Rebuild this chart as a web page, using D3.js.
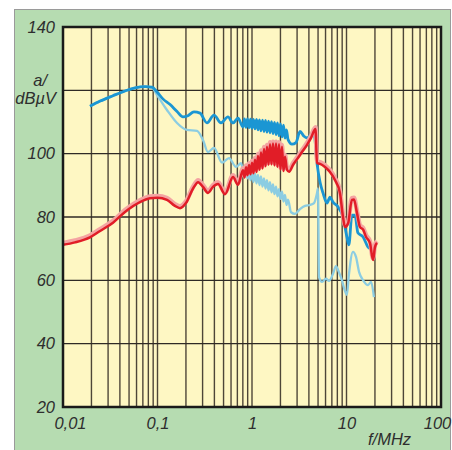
<!DOCTYPE html>
<html><head><meta charset="utf-8">
<script src="https://cdn.jsdelivr.net/npm/d3@7"></script>
<style>html,body{margin:0;padding:0;background:#fff;}svg{display:block;}</style>
</head><body>
<svg id="c" width="452" height="450"></svg>
<script>
// ---- data (frequency in MHz, level in dBµV) ----
const darkBlueF = [0.0193,0.0247,0.0338,0.0453,0.0578,0.0738,0.0875,0.0989,0.114,0.136,0.161,0.186,0.210,0.243,0.282,0.334,0.396,0.470,0.557,0.630,0.711,0.803,
  0.833,0.864,0.896,0.930,0.964,1.000,1.037,1.076,1.116,1.157,1.200,1.245,1.292,1.340,1.390,1.441,1.495,1.551,1.608,1.668,1.730,1.795,1.861,1.931,2.003,2.077,2.154,2.235,2.318,2.404,
  2.65,2.92,3.22,3.55,3.82,4.21,4.53,4.87,5.25,5.64,6.22,6.69,7.19,8.13,9.18,10.1,10.6,11.4,12.3,13.2,15.0,16.9,19.1];
const darkBlueV = [115.0,116.6,118.3,119.8,120.8,121.2,121.0,119.5,117.3,115.5,113.3,111.6,112.0,113.2,112.8,109.7,112.2,109.7,111.6,109.7,111.2,108.4,
  111.0,108.3,111.0,108.2,110.9,108.0,110.8,107.8,110.8,107.5,110.7,107.2,110.6,107.0,110.5,106.8,110.3,106.6,110.1,106.3,109.9,106.0,109.7,105.6,109.4,105.3,109.0,104.9,107.5,104.5,
  103.0,103.5,107.0,105.5,105.0,106.0,106.5,97.0,91.0,87.6,84.4,86.3,84.7,83.2,80.0,73.7,71.2,80.6,80.6,75.0,73.7,70.5,69.6];

const lightBlueF = [0.0193,0.0247,0.0338,0.0453,0.0578,0.0738,0.0875,0.0989,0.126,0.161,0.205,0.262,0.303,0.342,0.396,0.482,0.571,0.678,0.766,
  0.833,0.864,0.896,0.930,0.964,1.000,1.037,1.076,1.116,1.157,1.200,1.245,1.292,1.340,1.390,1.441,1.495,1.551,1.608,1.668,1.730,1.795,1.861,1.931,2.003,2.077,2.154,2.235,2.318,2.404,
  2.59,2.85,3.22,3.64,4.11,4.53,4.87,4.99,5.12,5.51,6.07,6.53,7.19,7.74,8.33,8.96,9.41,10.1,10.6,11.7,12.6,13.6,15.0,16.9,18.2,19.5];
const lightBlueV = [115.0,116.6,118.3,119.8,120.8,121.2,120.8,118.5,113.8,109.7,107.5,107.2,104.3,100.5,101.8,97.2,98.6,95.8,97.0,
  92.5,95.2,92.2,94.8,91.6,94.2,91.0,93.8,90.6,93.3,90.1,92.8,89.6,92.2,89.0,91.6,88.4,91.0,87.8,90.3,87.2,89.6,86.5,88.8,85.7,88.0,84.9,87.0,83.8,85.5,
  81.5,81.0,82.5,83.5,83.8,84.4,87.5,89.0,61.0,59.5,60.5,59.8,62.0,64.5,62.5,60.0,57.6,55.4,61.7,69.0,67.4,62.6,60.0,58.5,59.5,54.7];

const redF = [0.0100,0.0134,0.0193,0.0247,0.0338,0.0453,0.0653,0.0833,0.100,0.126,0.153,0.173,0.200,0.238,0.269,0.303,0.342,0.386,0.437,0.518,0.630,0.711,
  0.803,0.833,0.864,0.896,0.930,0.964,1.000,1.037,1.076,1.116,1.157,1.200,1.245,1.292,1.340,1.390,1.441,1.495,1.551,1.608,1.668,1.730,1.795,1.861,1.931,2.003,2.077,2.154,2.235,
  2.34,2.47,2.72,2.99,3.38,3.82,4.21,4.70,4.87,5.25,5.92,6.69,7.55,8.53,9.18,9.64,10.4,11.4,12.0,12.9,13.9,15.0,16.1,17.7,19.1,20.0,21.0];
const redV = [71.2,72.0,73.6,75.6,78.2,81.6,84.7,85.9,86.1,85.4,83.5,82.8,84.4,89.0,91.0,89.5,87.6,89.5,90.4,87.2,92.6,90.2,
  94.8,92.5,95.7,93.2,96.4,93.5,97.1,93.8,98.1,94.2,99.3,94.9,100.4,95.3,101.5,96.0,102.2,96.5,103.0,96.6,103.2,96.3,103.2,95.8,103.0,95.0,102.2,94.5,99.0,
  95.0,94.3,96.5,98.2,100.5,102.8,105.0,107.8,97.0,96.8,95.8,94.2,91.7,87.6,80.0,76.8,78.0,85.4,85.5,81.3,76.8,76.0,73.7,71.8,66.4,70.5,71.8];

const yTicks = [20,40,60,80,100,120,140];
const yTickLabels = ["20","40","60","80","100","","140"];
const xTickValues = [0.01,0.1,1,10,100];
const xTickLabels = ["0,01","0,1","1","10","100"];

// ---- layout ----
const svg = d3.select("#c");
const L = 63, R = 441, T = 27, B = 407;
const x = d3.scaleLog().domain([0.01,100]).range([L,R]);
const y = d3.scaleLinear().domain([20,140]).range([B,T]);

svg.append("rect").attr("x",14.5).attr("y",9.5).attr("width",436).attr("height",450)
  .attr("fill","#b6dcb1").attr("stroke","#9a9a9a").attr("stroke-width",1);
svg.append("rect").attr("x",L).attr("y",T).attr("width",R-L).attr("height",B-T).attr("fill","#fef7c3");

// vertical grid
svg.append("g").selectAll("line").data(x.ticks()).join("line")
  .attr("x1",d=>x(d)).attr("x2",d=>x(d)).attr("y1",T).attr("y2",B)
  .attr("stroke","#4e4638").attr("stroke-width",1.4);
// horizontal grid
svg.append("g").selectAll("line").data(yTicks).join("line")
  .attr("x1",L).attr("x2",R).attr("y1",d=>y(d)).attr("y2",d=>y(d))
  .attr("stroke","#2f2a25").attr("stroke-width",1.4);

// series
function series(F,V){ return F.map((f,i)=>[f,V[i]]); }
const line = d3.line().x(d=>x(d[0])).y(d=>y(d[1])).curve(d3.curveMonotoneX);
svg.append("clipPath").attr("id","pc").append("rect").attr("x",L).attr("y",T).attr("width",R-L).attr("height",B-T);
const g = svg.append("g").attr("clip-path","url(#pc)");
g.append("path").attr("d",line(series(lightBlueF,lightBlueV))).attr("fill","none").attr("stroke","#8ccde2").attr("stroke-width",2.3).attr("stroke-linejoin","round");
g.append("path").attr("d",line(series(darkBlueF,darkBlueV))).attr("fill","none").attr("stroke","#1b96d3").attr("stroke-width",2.8).attr("stroke-linejoin","round");
g.append("path").attr("d",line(series(redF,redV))).attr("fill","none").attr("stroke","#f4a4a2").attr("stroke-width",4.5).attr("transform","translate(0,-1.8)").attr("stroke-linejoin","round");
g.append("path").attr("d",line(series(redF,redV))).attr("fill","none").attr("stroke","#e11d27").attr("stroke-width",2.5).attr("stroke-linejoin","round");

// frame
svg.append("rect").attr("x",L).attr("y",T).attr("width",R-L).attr("height",B-T)
  .attr("fill","none").attr("stroke","#1a1a1a").attr("stroke-width",2.5);

// axes text
const font = "'Liberation Sans', Arial, sans-serif";
const yAxis = d3.axisLeft(y).tickValues(yTicks).tickSize(0).tickPadding(8).tickFormat((d,i)=>yTickLabels[i]);
const ya = svg.append("g").attr("transform",`translate(${L},0)`).call(yAxis);
ya.select(".domain").remove();
ya.selectAll("text").attr("font-family",font).attr("font-size",16.5).attr("font-style","italic").attr("fill","#2e2e2e");

const xAxis = d3.axisBottom(x).tickValues(xTickValues).tickSize(0).tickPadding(10).tickFormat((d,i)=>xTickLabels[i]);
const xa = svg.append("g").attr("transform",`translate(0,${B})`).call(xAxis);
xa.select(".domain").remove();
xa.selectAll("text").attr("font-family",font).attr("font-size",16.5).attr("font-style","italic").attr("fill","#2e2e2e")
  .attr("dx",(d,i)=> i===0 ? 7 : (i===4 ? -4 : 0));

svg.append("text").attr("x",47).attr("y",86).attr("text-anchor","end").attr("font-family",font).attr("font-size",16.5).attr("font-style","italic").attr("fill","#2e2e2e").text("a/");
svg.append("text").attr("x",56).attr("y",104).attr("text-anchor","end").attr("font-family",font).attr("font-size",16.5).attr("font-style","italic").attr("fill","#2e2e2e").text("dBµV");
svg.append("text").attr("x",368).attr("y",445).attr("font-family",font).attr("font-size",16.5).attr("font-style","italic").attr("fill","#2e2e2e").text("f/MHz");
</script>
</body></html>
